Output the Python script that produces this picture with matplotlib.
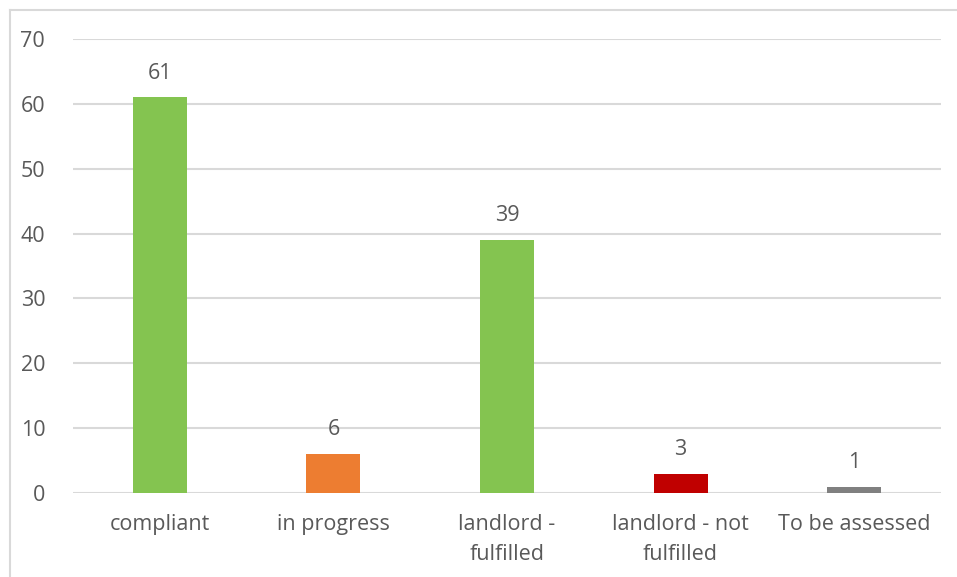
import matplotlib
matplotlib.use("Agg")
import matplotlib.pyplot as plt
from matplotlib.lines import Line2D

categories = ["compliant", "in progress", "landlord -\nfulfilled", "landlord - not\nfulfilled", "To be assessed"]
values = [61, 6, 39, 3, 1]
colors = ["#84C450", "#ED7D31", "#84C450", "#C00000", "#808080"]
yticks = [0, 10, 20, 30, 40, 50, 60, 70]

plt.rcParams['font.family'] = ['Open Sans', 'DejaVu Sans']
text_color = "#595959"
grid_color = "#D9D9D9"
fs = 15.5

fig = plt.figure(figsize=(9.57, 5.77), dpi=100)
ax = fig.add_axes([73/957, 1-493/577, (941-73)/957, (493-39)/577])

x = list(range(len(categories)))
bars = ax.bar(x, values, width=0.31, color=colors, zorder=3)
for xi, v in zip(x, values):
    ax.text(xi, v + 2.1, str(v), ha='center', va='bottom', fontsize=fs, color=text_color)

ax.set_xlim(-0.5, len(categories) - 0.5)
ax.set_ylim(0, 70)
ax.set_yticks(yticks)
ax.set_xticks(x)
ax.set_xticklabels(categories, fontsize=fs, color=text_color, linespacing=1.55)
ax.tick_params(axis='y', labelsize=fs, labelcolor=text_color, length=0, pad=20)
ax.tick_params(axis='x', length=0, pad=15)
ax.grid(axis='y', color=grid_color, linewidth=1.5, zorder=0)
for s in ax.spines.values():
    s.set_visible(False)

# outer chart border
fig.add_artist(Line2D([10/957, 1], [1-10/577, 1-10/577], color=grid_color, linewidth=1.5, transform=fig.transFigure))
fig.add_artist(Line2D([10/957, 10/957], [0, 1-10/577], color=grid_color, linewidth=1.5, transform=fig.transFigure))

fig.savefig("out.png", dpi=100)
